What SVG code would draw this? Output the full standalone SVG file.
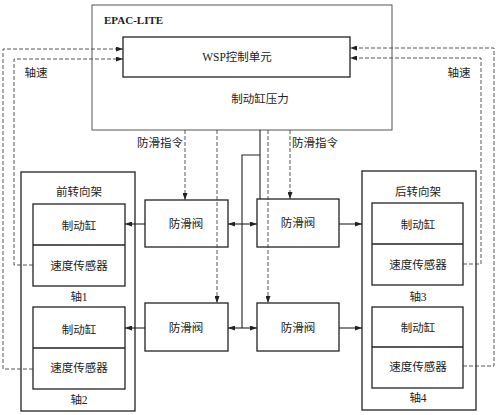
<svg xmlns="http://www.w3.org/2000/svg" width="499" height="415" viewBox="0 0 499 415">
<defs>
<marker id="ah" viewBox="0 0 7 5" refX="7" refY="2.5" markerWidth="7" markerHeight="5" markerUnits="userSpaceOnUse" orient="auto">
<path d="M0,0 L7,2.5 L0,5 Z" fill="#222"/>
</marker>
</defs>
<style>
text{font-family:"Liberation Serif","Noto Sans CJK SC",serif;font-size:11.5px;fill:#222;text-anchor:middle}
.box{fill:none;stroke:#222;stroke-width:1.3}
.thin{fill:none;stroke:#444;stroke-width:0.9}
.sol{fill:none;stroke:#222;stroke-width:1.1}
.dash{fill:none;stroke:#444;stroke-width:0.9;stroke-dasharray:4,2}
</style>
<rect width="499" height="415" fill="#fff"/>
<g id="epac">
<rect class="thin" x="92" y="5" width="300" height="125"/>
<text x="104" y="24" style="text-anchor:start;font-weight:bold;font-size:11px">EPAC-LITE</text>
<text x="260" y="103">制动缸压力</text>
</g>
<g id="wsp">
<rect class="box" x="123" y="37" width="227" height="40"/>
<text x="237" y="61">WSP控制单元</text>
</g>
<g id="front-bogie">
<rect class="box" x="21" y="172" width="114" height="239"/>
<text x="79" y="196">前转向架</text>
</g>
<g id="axle1">
<rect class="box" x="33" y="204" width="92" height="82"/>
<line class="box" x1="33" y1="245" x2="125" y2="245"/>
<text x="79" y="230">制动缸</text>
<text x="79" y="270">速度传感器</text>
<text x="79" y="301">轴1</text>
</g>
<g id="axle2">
<rect class="box" x="33" y="307" width="92" height="82"/>
<line class="box" x1="33" y1="348" x2="125" y2="348"/>
<text x="79" y="334">制动缸</text>
<text x="79" y="372">速度传感器</text>
<text x="79" y="404">轴2</text>
</g>
<g id="rear-bogie">
<rect class="box" x="362" y="171" width="114" height="239"/>
<text x="418" y="196">后转向架</text>
</g>
<g id="axle3">
<rect class="box" x="372" y="203" width="91" height="82"/>
<line class="box" x1="372" y1="244" x2="463" y2="244"/>
<text x="418" y="229">制动缸</text>
<text x="418" y="269">速度传感器</text>
<text x="418" y="301">轴3</text>
</g>
<g id="axle4">
<rect class="box" x="372" y="307" width="91" height="81"/>
<line class="box" x1="372" y1="347" x2="463" y2="347"/>
<text x="418" y="332">制动缸</text>
<text x="418" y="371">速度传感器</text>
<text x="418" y="402">轴4</text>
</g>
<g id="valve1">
<rect class="box" x="145" y="200" width="83" height="47"/>
<text x="186" y="228">防滑阀</text>
</g>
<g id="valve2">
<rect class="box" x="257" y="199" width="82" height="48"/>
<text x="298" y="227">防滑阀</text>
</g>
<g id="valve3">
<rect class="box" x="145" y="303" width="83" height="48"/>
<text x="186" y="332">防滑阀</text>
</g>
<g id="valve4">
<rect class="box" x="257" y="303" width="82" height="48"/>
<text x="298" y="332">防滑阀</text>
</g>
<g id="connectors">
<polyline class="dash" points="33,369 3,369 3,49 123,49" marker-end="url(#ah)"/>
<polyline class="dash" points="33,265 14,265 14,59 123,59" marker-end="url(#ah)"/>
<polyline class="dash" points="463,366 494,366 494,48 350,48" marker-end="url(#ah)"/>
<polyline class="dash" points="463,264 481,264 481,58 350,58" marker-end="url(#ah)"/>
<text x="36" y="77">轴速</text>
<text x="459" y="77">轴速</text>
<line class="dash" x1="185" y1="130" x2="185" y2="200" marker-end="url(#ah)"/>
<line class="dash" x1="217" y1="130" x2="217" y2="303" marker-end="url(#ah)"/>
<line class="dash" x1="290" y1="130" x2="290" y2="199" marker-end="url(#ah)"/>
<line class="dash" x1="268" y1="130" x2="268" y2="303" marker-end="url(#ah)"/>
<text x="160" y="147">防滑指令</text>
<text x="315" y="147">防滑指令</text>
<polyline class="sol" points="260,130 260,199"/>
<polyline class="sol" points="260,155 242,155 242,328"/>
<line class="sol" x1="242" y1="224" x2="228" y2="224" marker-end="url(#ah)"/>
<line class="sol" x1="242" y1="224" x2="257" y2="224" marker-end="url(#ah)"/>
<line class="sol" x1="242" y1="328" x2="228" y2="328" marker-end="url(#ah)"/>
<line class="sol" x1="242" y1="328" x2="257" y2="328" marker-end="url(#ah)"/>
<line class="sol" x1="145" y1="224" x2="125" y2="224" marker-end="url(#ah)"/>
<line class="sol" x1="145" y1="328" x2="125" y2="328" marker-end="url(#ah)"/>
<line class="sol" x1="339" y1="224" x2="362" y2="224" marker-end="url(#ah)"/>
<line class="sol" x1="339" y1="328" x2="362" y2="328" marker-end="url(#ah)"/>
</g>
</svg>
